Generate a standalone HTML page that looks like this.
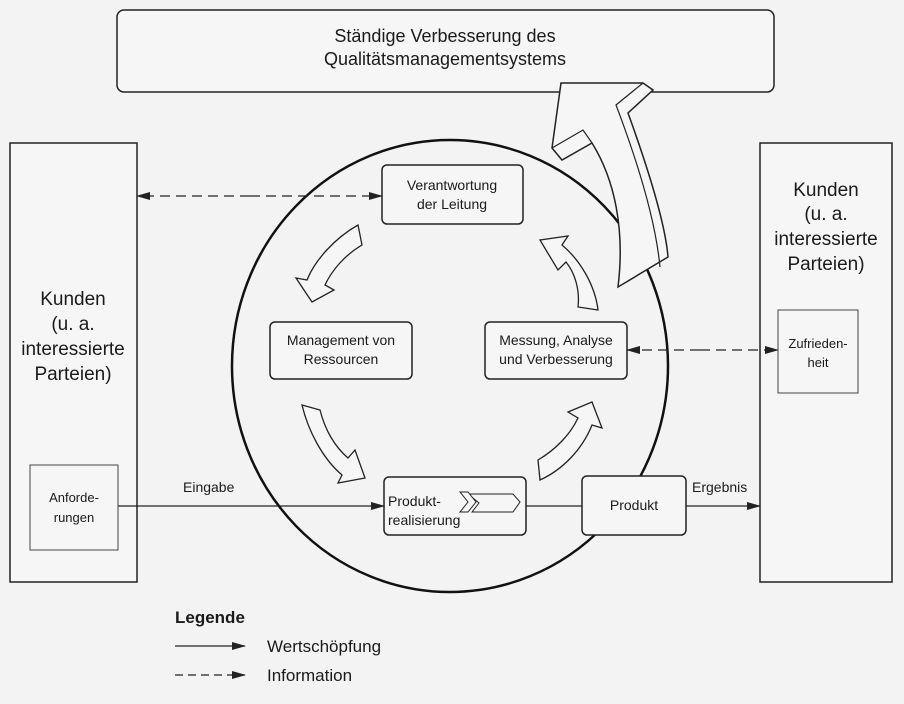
<!DOCTYPE html>
<html><head><meta charset="utf-8"><style>
html,body{margin:0;padding:0;background:#f3f3f3;}
svg{display:block;}
text{font-family:"Liberation Sans",Arial,sans-serif;fill:#1a1a1a;}
</style></head><body>
<svg width="904" height="704" viewBox="0 0 904 704" xmlns="http://www.w3.org/2000/svg">
<defs>
<marker id="ah" markerWidth="14" markerHeight="8" refX="13" refY="4" orient="auto" markerUnits="userSpaceOnUse">
<path d="M0,0 L14,4 L0,8 Z" fill="#222"/></marker>
</defs>
<rect width="904" height="704" fill="#f3f3f3"/>
<!-- top box -->
<rect x="117" y="10" width="657" height="82" rx="7" fill="#f6f6f6" stroke="#222" stroke-width="1.5"/>
<text x="445" y="42" font-size="18" text-anchor="middle">Ständige Verbesserung des</text>
<text x="445" y="65" font-size="18" text-anchor="middle">Qualitätsmanagementsystems</text>
<!-- side boxes -->
<rect x="10" y="143" width="127" height="439" fill="#f6f6f6" stroke="#222" stroke-width="1.5"/>
<g font-size="19" text-anchor="middle">
<text x="73" y="305">Kunden</text><text x="73" y="330">(u. a.</text>
<text x="73" y="355">interessierte</text><text x="73" y="380">Parteien)</text>
</g>
<rect x="30" y="465" width="88" height="85" fill="#f6f6f6" stroke="#444" stroke-width="1"/>
<text x="74" y="502" font-size="13" text-anchor="middle">Anforde-</text>
<text x="74" y="522" font-size="13" text-anchor="middle">rungen</text>
<rect x="760" y="143" width="132" height="439" fill="#f6f6f6" stroke="#222" stroke-width="1.5"/>
<g font-size="19" text-anchor="middle">
<text x="826" y="196">Kunden</text><text x="826" y="220">(u. a.</text>
<text x="826" y="245">interessierte</text><text x="826" y="270">Parteien)</text>
</g>
<rect x="778" y="310" width="80" height="83" fill="#f6f6f6" stroke="#444" stroke-width="1"/>
<text x="818" y="348" font-size="13" text-anchor="middle">Zufrieden-</text>
<text x="818" y="367" font-size="13" text-anchor="middle">heit</text>
<!-- circle -->
<ellipse cx="450" cy="366" rx="218" ry="226" fill="none" stroke="#111" stroke-width="2.5"/>
<!-- big arrow -->
<path d="M561,83 L643,83 L653,90 L628,113 C645,160 665,220 668,257 L618,287 C625,230 615,180 592,143 L562,160 L552,148 Z" fill="#f6f6f6" stroke="#222" stroke-width="1.5"/>
<path d="M643,83 L616,105 C635,155 655,215 660,267" fill="none" stroke="#222" stroke-width="1.2"/>
<path d="M552,148 L583,130 L592,143" fill="none" stroke="#222" stroke-width="1.2"/>
<!-- inner boxes -->
<g fill="#f6f6f6" stroke="#222" stroke-width="1.5">
<rect x="382" y="165" width="141" height="59" rx="5"/>
<rect x="270" y="322" width="142" height="57" rx="5"/>
<rect x="485" y="322" width="142" height="57" rx="5"/>
<rect x="384" y="477" width="142" height="58" rx="5"/>
<rect x="582" y="476" width="104" height="59" rx="5"/>
</g>
<g font-size="14" text-anchor="middle">
<text x="452" y="190">Verantwortung</text><text x="452" y="209">der Leitung</text>
<text x="341" y="345">Management von</text><text x="341" y="364">Ressourcen</text>
<text x="556" y="345">Messung, Analyse</text><text x="556" y="364">und Verbesserung</text>
<text x="634" y="510">Produkt</text>
</g>
<text x="388" y="506" font-size="14">Produkt-</text>
<text x="388" y="525" font-size="14">realisierung</text>
<path d="M468,494 L513,494 L520,502 L513,512 L472,512 L479,503 Z" fill="#f6f6f6" stroke="#222"/>
<path d="M460,492 L468,492 L476,502 L468,512 L460,512 L468,502 Z" fill="#f6f6f6" stroke="#222"/>
<!-- curved hollow arrows -->
<g fill="#f6f6f6" stroke="#222" stroke-width="1.3">
<path d="M358,225 L362,245 C345,255 332,270 325,285 L334,290 L312,302 L296,278 L307,280 C315,260 335,238 358,225 Z"/>
<path d="M302,405 L320,410 C325,430 335,447 348,458 L355,450 L365,478 L338,483 L342,475 C322,458 308,430 302,405 Z"/>
<path d="M540,480 L538,460 C555,450 570,435 578,418 L568,412 L592,402 L602,428 L592,425 C582,450 562,470 540,480 Z"/>
<path d="M598,310 L578,307 C580,290 575,273 566,262 L558,270 L540,240 L568,236 L562,245 C580,260 595,285 598,310 Z"/>
</g>
<!-- value line -->
<g stroke="#222" stroke-width="1.3" fill="none">
<line x1="118" y1="506" x2="384" y2="506" marker-end="url(#ah)"/>
<line x1="526" y1="506" x2="582" y2="506"/>
<line x1="686" y1="506" x2="760" y2="506" marker-end="url(#ah)"/>
<line x1="250" y1="196" x2="382" y2="196" stroke-dasharray="10,6" marker-end="url(#ah)"/>
<line x1="250" y1="196" x2="137" y2="196" stroke-dasharray="10,6" marker-end="url(#ah)"/>
<line x1="700" y1="350" x2="627" y2="350" stroke-dasharray="10,6" marker-end="url(#ah)"/>
<line x1="700" y1="350" x2="778" y2="350" stroke-dasharray="10,6" marker-end="url(#ah)"/>
</g>
<text x="183" y="492" font-size="14">Eingabe</text>
<text x="692" y="492" font-size="14">Ergebnis</text>
<!-- legend -->
<text x="175" y="623" font-size="17" font-weight="bold">Legende</text>
<line x1="175" y1="646" x2="245" y2="646" stroke="#222" stroke-width="1.3" marker-end="url(#ah)"/>
<text x="267" y="652" font-size="17">Wertschöpfung</text>
<line x1="175" y1="675" x2="245" y2="675" stroke="#222" stroke-width="1.3" stroke-dasharray="8,5" marker-end="url(#ah)"/>
<text x="267" y="681" font-size="17">Information</text>
</svg>
</body></html>
